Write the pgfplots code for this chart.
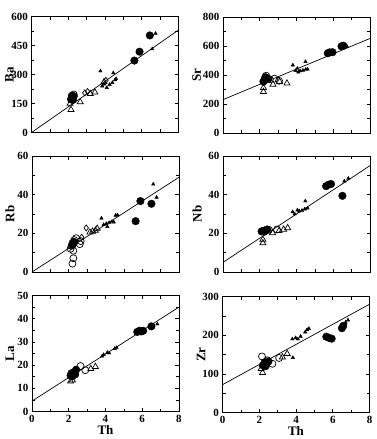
\documentclass[border=0pt]{standalone}
\usepackage{fontspec}
\setmainfont{Liberation Serif}
\usepackage{pgfplots}
\pgfplotsset{compat=1.18}
\pgfplotsset{
  panel/.style={scale only axis, width=147pt, height=116pt,
    xmin=0, xmax=8, xtick={0,2,4,6,8}, minor x tick num=1, minor y tick num=1,
    tick align=inside, major tick length=3.5pt, minor tick length=3pt,
    axis line style={line width=0.8pt}, every tick/.style={black, line width=0.6pt},
    ticklabel style={font=\fontsize{11}{12}\selectfont\bfseries},
    label style={font=\fontsize{13}{14}\selectfont\bfseries},
    /pgf/number format/assume math mode=true,
    xlabel style={yshift=4pt},
  },
  fc/.style={only marks, mark=*, mark size=3.8pt, black},
  oc/.style={only marks, mark=o, mark size=3.5pt, black, mark options={fill=white, line width=0.7pt}},
  ot/.style={only marks, mark=triangle, mark size=3.5pt, black, mark options={fill=white, line width=0.7pt}},
  od/.style={only marks, mark=diamond, mark size=3pt, black, mark options={fill=white, line width=0.7pt}},
  ft/.style={only marks, mark=triangle*, mark size=2pt, black},
  reg/.style={no marks, black, line width=0.7pt},
}
\begin{document}
\begin{tikzpicture}
\useasboundingbox (0,0) rectangle (376pt,-439pt);
% Ba
\begin{axis}[panel, at={(31.5pt,-16.5pt)}, anchor=north west, ymin=0, ymax=600, ytick={0,150,300,450,600}, xticklabels={},
  ylabel={Ba}, ylabel style={at={(axis description cs:-0.15,0.5)}, anchor=center}]
\addplot[reg] coordinates {(0,0) (8,530)};
\addplot[ot] coordinates {(2.15,118) (2.1,150) (2.65,158) (3.2,200) (3.45,208) (3.95,262)};
\addplot[od] coordinates {(2.9,205) (3.05,212) (4.05,270)};
\addplot[fc] coordinates {(2.15,172) (2.2,182) (2.25,168) (2.3,188) (2.2,190) (5.6,372) (5.88,418) (6.44,502)};
\addplot[oc] coordinates {(2.3,197) (2.25,178)};
\addplot[ft] coordinates {(3.75,318) (4.45,308) (3.85,240) (4.1,232) (4.25,248) (4.4,258) (4.55,272) (4.6,278) (3.95,250) (6.75,512) (6.57,432)};
\end{axis}
% Sr
\begin{axis}[panel, at={(223pt,-17pt)}, anchor=north west, ymin=0, ymax=800, ytick={0,200,400,600,800}, xticklabels={},
  ylabel={Sr}, ylabel style={at={(axis description cs:-0.18,0.5)}, anchor=center}]
\addplot[reg] coordinates {(0,230) (8,652)};
\addplot[ot] coordinates {(2.2,285) (2.2,312) (2.72,335) (3.08,354) (3.48,343)};
\addplot[fc] coordinates {(2.2,355) (2.27,366) (2.38,380) (2.45,372) (2.3,385) (5.7,550) (5.8,556) (5.96,557) (6.45,598) (6.55,602)};
\addplot[oc] coordinates {(2.35,395) (2.55,370) (2.8,375) (3.05,360)};
\addplot[ft] coordinates {(3.8,468) (4.49,492) (3.95,430) (4.05,445) (4.2,428) (4.35,432) (4.5,438) (4.6,440) (4.1,420) (6.75,596)};
\end{axis}
% Rb
\begin{axis}[panel, at={(32pt,-156pt)}, anchor=north west, ymin=0, ymax=60, ytick={0,20,40,60}, xticklabels={},
  ylabel={Rb}, ylabel style={at={(axis description cs:-0.15,0.5)}, anchor=center}]
\addplot[reg] coordinates {(0,0) (8,49)};
\addplot[fc] coordinates {(2.2,14) (2.3,15.5) (5.64,26.3) (5.9,36.7) (6.5,35.3)};
\addplot[oc] coordinates {(2.2,4.3) (2.25,7.1) (2.1,12) (2.15,13.5) (2.2,15) (2.3,16.5) (2.25,11) (2.4,17.5) (2.6,14.4) (2.65,16)};
\addplot[od] coordinates {(2.95,22.8) (2.7,18)};
\addplot[ot] coordinates {(3.3,21) (3.45,21.5) (3.55,22.5) (3.15,20.5)};
\addplot[ft] coordinates {(3.78,27.8) (3.9,24.5) (4.05,25) (4.2,25.5) (4.35,26) (4.45,25.8) (4.55,29.3) (4.65,29.5) (4.1,23.5) (6.6,45.4) (6.78,38.6)};
\end{axis}
% Nb
\begin{axis}[panel, at={(223pt,-156pt)}, anchor=north west, ymin=0, ymax=60, ytick={0,20,40,60}, xticklabels={},
  ylabel={Nb}, ylabel style={at={(axis description cs:-0.176,0.5)}, anchor=center}]
\addplot[reg] coordinates {(0,5) (8,55)};
\addplot[ot] coordinates {(2.17,15) (2.17,16.8) (2.7,20.2) (3.05,21.3) (3.3,22) (3.52,22.8)};
\addplot[fc] coordinates {(2.1,21) (2.2,21.3) (2.3,21.5) (2.4,22) (5.61,44.4) (5.75,45.2) (5.88,45.5) (6.5,39.4)};
\addplot[oc] coordinates {(2.25,20.8) (2.5,21.8) (2.94,22)};
\addplot[ft] coordinates {(3.79,31.1) (4.48,36.7) (3.9,30) (4.05,32) (4.15,31.5) (4.3,31.8) (4.45,32.5) (4.6,33) (6.6,47) (6.82,48.4)};
\end{axis}
% La
\begin{axis}[panel, at={(32pt,-295.5pt)}, anchor=north west, ymin=0, ymax=50, ytick={0,10,20,30,40,50},
  xlabel={Th}, ylabel={La}, ylabel style={at={(axis description cs:-0.15,0.5)}, anchor=center}]
\addplot[reg] coordinates {(0,4.5) (8,45)};
\addplot[ot] coordinates {(2.1,13) (2.2,13.5) (3.2,18.4) (3.45,19.3)};
\addplot[fc] coordinates {(2.1,15.5) (2.15,16.5) (2.2,15.2) (2.3,17) (2.35,16) (2.4,18) (5.73,34.3) (5.85,34.8) (5.95,34.5) (6.05,34.8) (6.5,36.7)};
\addplot[oc] coordinates {(2.64,19.6) (2.9,17.8)};
\addplot[ft] coordinates {(3.82,23.9) (3.9,24.5) (4.1,25.4) (4.2,25.2) (4.5,27.1) (4.6,27.5) (6.82,37.7)};
\end{axis}
% Zr
\begin{axis}[panel, at={(222.5pt,-296.5pt)}, anchor=north west, ymin=0, ymax=300, ytick={0,100,200,300},
  xlabel={Th}, ylabel={Zr}, ylabel style={at={(axis description cs:-0.145,0.5)}, anchor=center}]
\addplot[reg] coordinates {(0,72) (8,280)};
\addplot[ot] coordinates {(2.1,113) (2.18,103) (3.26,143) (3.52,152)};
\addplot[fc] coordinates {(2.2,122) (2.3,130) (2.4,128) (2.5,132) (2.35,120) (5.65,196) (5.8,193) (5.94,191) (6.5,218) (6.57,224)};
\addplot[oc] coordinates {(2.15,145) (2.72,126) (3.08,141) (2.45,135)};
\addplot[ft] coordinates {(3.83,142) (3.8,190) (3.98,193) (4.1,190) (4.25,197) (4.5,208) (4.6,214) (4.7,217) (6.83,239) (6.7,233)};
\end{axis}
\end{tikzpicture}
\end{document}
